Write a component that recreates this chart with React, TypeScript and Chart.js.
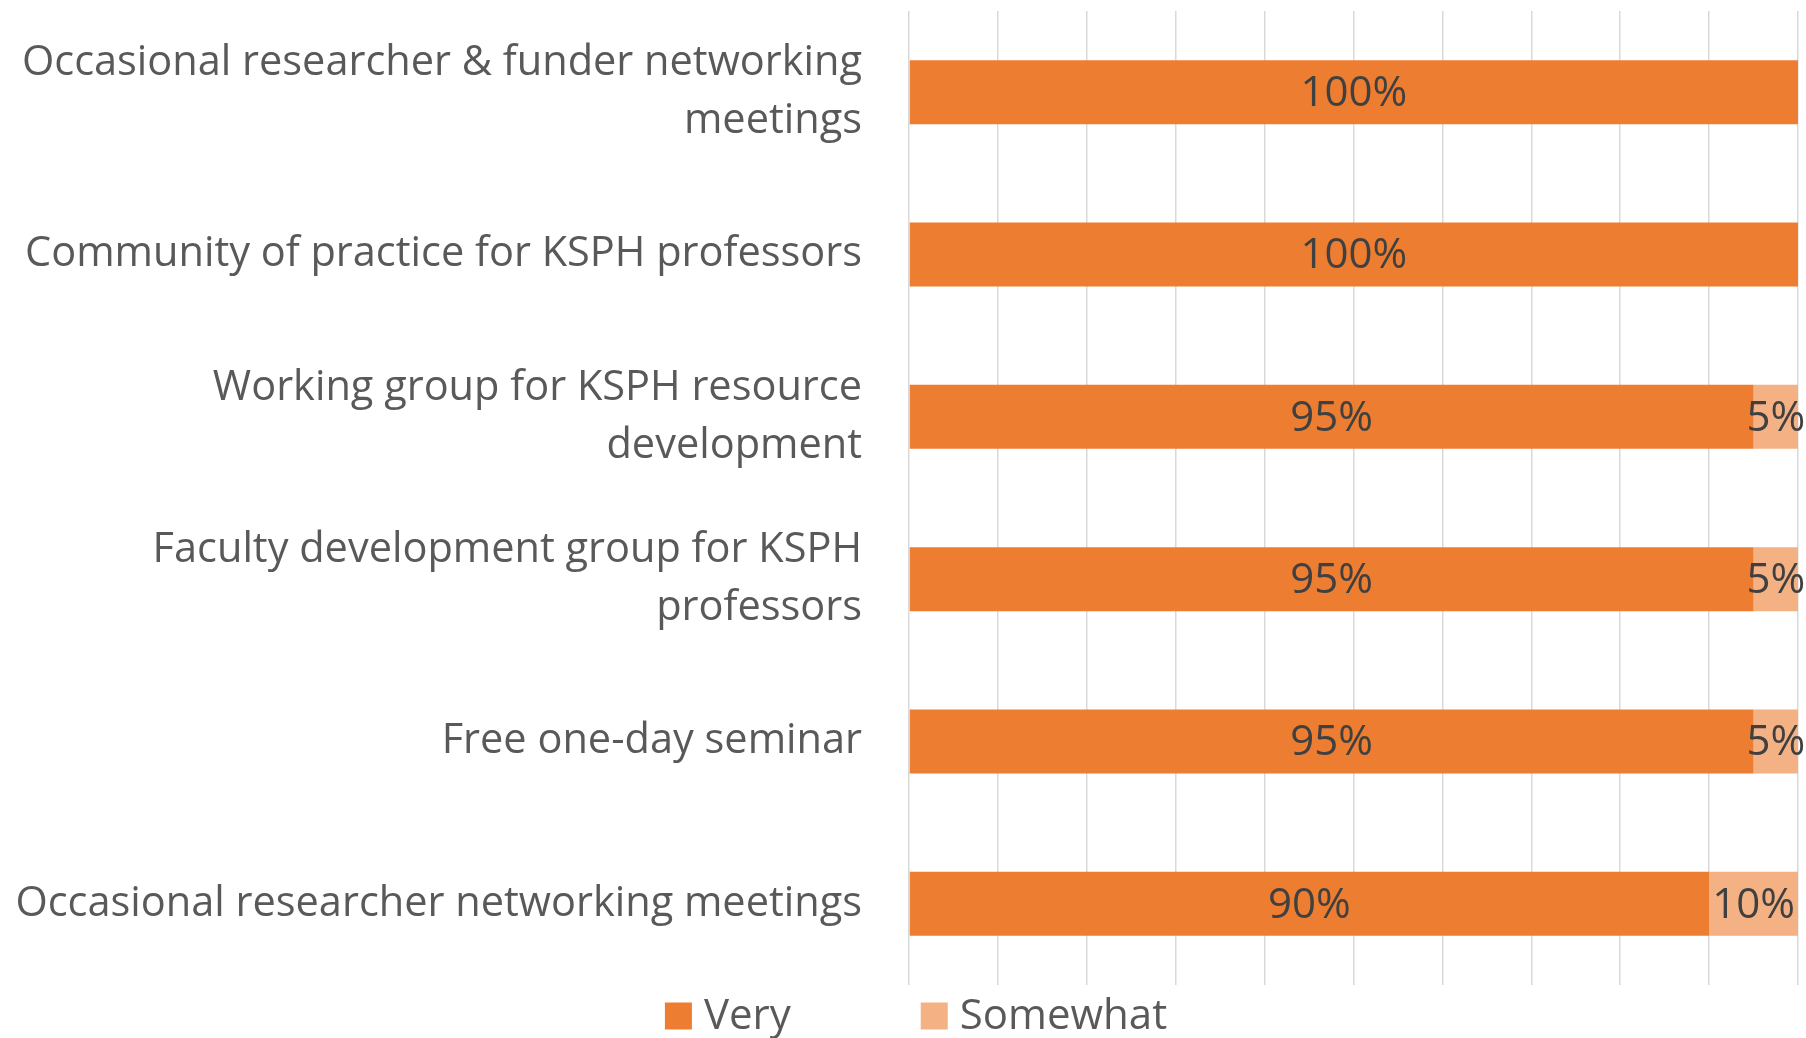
import React, { useEffect, useRef } from "react";
import { Chart, registerables } from "chart.js";

Chart.register(...registerables);

const categories: (string | string[])[] = [
  ["Occasional researcher & funder networking", "meetings"],
  "Community of practice for KSPH professors",
  ["Working group for KSPH resource", "development"],
  ["Faculty development group for KSPH", "professors"],
  "Free one-day seminar",
  "Occasional researcher networking meetings",
];
const veryValues = [100, 100, 95, 95, 95, 90];
const somewhatValues = [0, 0, 5, 5, 5, 10];
const seriesNames = ["Very", "Somewhat"];
const seriesColors = ["#ED7D31", "#F4B183"];

const FONT = "'Open Sans', sans-serif";
const FONT_SIZE = 42;
const TICK_FONT_SIZE = 41.5;
const LABEL_COLOR = "#595959";
const VALUE_COLOR = "#404040";

const valueLabelPlugin = {
  id: "valueLabels",
  afterDatasetsDraw(chart: any) {
    const ctx = chart.ctx;
    ctx.save();
    ctx.font = `${FONT_SIZE}px ${FONT}`;
    ctx.fillStyle = VALUE_COLOR;
    ctx.textAlign = "center";
    ctx.textBaseline = "middle";
    chart.data.datasets.forEach((ds: any, di: number) => {
      const meta = chart.getDatasetMeta(di);
      meta.data.forEach((el: any, i: number) => {
        const v = ds.data[i];
        if (!v) return;
        const { x, base, y } = el.getProps(["x", "base", "y"], true);
        ctx.fillText(`${v}%`, (x + base) / 2, y + 2);
      });
    });
    ctx.restore();
  },
};

const legendPlugin = {
  id: "customLegend",
  afterDraw(chart: any) {
    const ctx = chart.ctx;
    ctx.save();
    ctx.font = `${FONT_SIZE}px ${FONT}`;
    ctx.textBaseline = "middle";
    ctx.textAlign = "left";
    const box = 27;
    const gap = 12;
    const itemGap = 130;
    const items = chart.data.datasets.map((ds: any) => ({
      text: ds.label,
      color: ds.backgroundColor,
      w: box + gap + ctx.measureText(ds.label).width,
    }));
    const total = items.reduce((s: number, it: any) => s + it.w, 0) + itemGap * (items.length - 1);
    let x = chart.width / 2 + 13 - total / 2;
    const cy = 1016;
    items.forEach((it: any) => {
      ctx.fillStyle = it.color;
      ctx.fillRect(x, cy - box / 2, box, box);
      ctx.fillStyle = LABEL_COLOR;
      ctx.fillText(it.text, x + box + gap, cy + 1);
      x += it.w + itemGap;
    });
    ctx.restore();
  },
};

export default function App() {
  const ref = useRef<HTMLCanvasElement>(null);
  useEffect(() => {
    if (!ref.current) return;
    const chart = new Chart(ref.current, {
      type: "bar",
      data: {
        labels: categories,
        datasets: [
          { label: seriesNames[0], data: veryValues, backgroundColor: seriesColors[0] },
          { label: seriesNames[1], data: somewhatValues, backgroundColor: seriesColors[1] },
        ],
      },
      options: {
        indexAxis: "y",
        animation: false,
        responsive: false,
        devicePixelRatio: 1,
        layout: { padding: { top: 11, right: 8, left: 0, bottom: 53 } },
        datasets: { bar: { barPercentage: 0.394, categoryPercentage: 1 } },
        plugins: { legend: { display: false }, tooltip: { enabled: false } },
        scales: {
          x: {
            stacked: true,
            min: 0,
            max: 100,
            ticks: { display: false, stepSize: 10 },
            grid: { color: "#D9D9D9", lineWidth: 1.5, drawTicks: false },
            border: { display: false },
            afterFit: (s: any) => {
              s.height = 0;
              s.paddingLeft = 0;
              s.paddingRight = 0;
            },
          },
          y: {
            stacked: true,
            grid: { display: false, drawTicks: false },
            border: { display: false },
            ticks: {
              color: LABEL_COLOR,
              padding: 47,
              font: { family: FONT, size: TICK_FONT_SIZE, lineHeight: 1.39 },
            },
            afterFit: (s: any) => {
              s.width = 909;
              s.paddingTop = 0;
              s.paddingBottom = 0;
            },
          },
        },
      } as any,
      plugins: [valueLabelPlugin, legendPlugin],
    });
    return () => chart.destroy();
  }, []);
  return (
    <div style={{ position: "fixed", left: 0, top: 0, width: 1806, height: 1038, background: "#fff" }}>
      <canvas ref={ref} width={1806} height={1038} style={{ width: 1806, height: 1038 }} />
    </div>
  );
}
